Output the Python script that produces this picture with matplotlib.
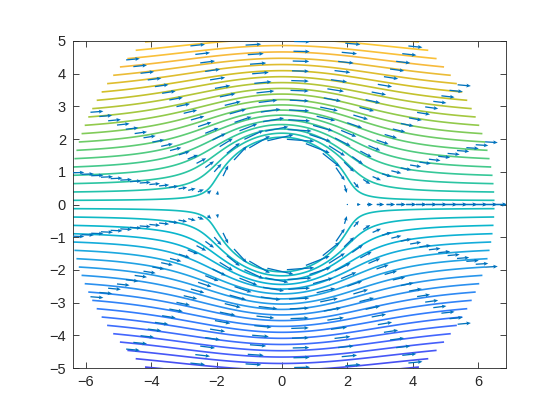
import numpy as np
import matplotlib
matplotlib.use('Agg')
import matplotlib.pyplot as plt
from matplotlib.colors import LinearSegmentedColormap, Normalize

# Potential flow round a cylinder: stream function contours + velocity arrows
a = 2.0          # cylinder radius
r_out = 6.5      # outer radius of the domain
U = 1.0          # free stream speed
n_levels = 50

# arrow grid (polar): radii and spokes
r_arrows = np.arange(2.0, 6.5 + 1e-9, 0.3)
th_arrows = np.linspace(0, 2 * np.pi, 22)

x_ticks = [-6, -4, -2, 0, 2, 4, 6]
y_ticks = [-5, -4, -3, -2, -1, 0, 1, 2, 3, 4, 5]

# MATLAB parula, entries 1,5,9,...,61,64 of the 64-colour map
parula_idx = [1, 5, 9, 13, 17, 21, 25, 29, 33, 37, 41, 45, 49, 53, 57, 61, 64]
parula_rgb = [
  (0.2422, 0.1504, 0.6603), (0.2706, 0.2147, 0.8364), (0.2813, 0.3006, 0.9414),
  (0.2699, 0.3892, 0.9906), (0.1963, 0.4847, 0.9892), (0.1687, 0.5703, 0.9359),
  (0.1248, 0.6459, 0.8883), (0.0297, 0.7082, 0.8163), (0.0964, 0.7500, 0.7120),
  (0.2161, 0.7843, 0.5923), (0.3909, 0.8029, 0.4354), (0.6174, 0.7876, 0.2612),
  (0.8203, 0.7498, 0.1535), (0.9728, 0.7298, 0.2394), (0.9892, 0.8136, 0.1885),
  (0.9597, 0.9135, 0.1423), (0.9769, 0.9839, 0.0805)]
parula = LinearSegmentedColormap.from_list(
  'parula', [((i - 1) / 63, c) for i, c in zip(parula_idx, parula_rgb)])
quiver_color = (0, 0.447, 0.741)


def stream(x, y):
  r2 = x**2 + y**2
  return U * y * (1 - a**2 / r2)


def velocity(x, y):
  r4 = (x**2 + y**2)**2
  u = U * (1 - a**2 * (x**2 - y**2) / r4)
  v = -U * 2 * a**2 * x * y / r4
  return u, v


# fine polar grid for the contours
R, TH = np.meshgrid(np.linspace(a, r_out, 300), np.linspace(0, 2 * np.pi, 721))
X, Y = R * np.cos(TH), R * np.sin(TH)
psi = stream(X, Y)
levels = np.linspace(psi.min(), psi.max(), n_levels + 2)[1:-1]

# coarse grid for arrows
Rq, THq = np.meshgrid(r_arrows, th_arrows)
Xq, Yq = Rq * np.cos(THq), Rq * np.sin(THq)
Uq, Vq = velocity(Xq, Yq)

plt.rcParams['font.family'] = ['Liberation Sans', 'DejaVu Sans']
fig = plt.figure(figsize=(5.6, 4.2), dpi=100)
ax = fig.add_axes([73 / 560, 52 / 420, 433 / 560, 327 / 420])

ax.contour(X, Y, psi, levels=levels, cmap=parula,
           norm=Normalize(psi.min(), psi.max()), linewidths=1.2)
ax.quiver(Xq, Yq, Uq, Vq, color=quiver_color, angles='xy', scale_units='xy',
          scale=1 / 0.42, width=0.003, headwidth=3, headlength=3.5,
          headaxislength=3, zorder=3)

ax.set_xlim(-6.39, 6.85)
ax.set_ylim(-5, 5)
ax.set_xticks(x_ticks)
ax.set_yticks(y_ticks)
ax.tick_params(direction='in', top=True, right=True, length=4, width=0.6,
               labelsize=10.5, colors='#262626', pad=5)
for s in ax.spines.values():
  s.set_linewidth(0.6)
  s.set_color('#262626')

fig.savefig('out.png', dpi=100, facecolor='white')
